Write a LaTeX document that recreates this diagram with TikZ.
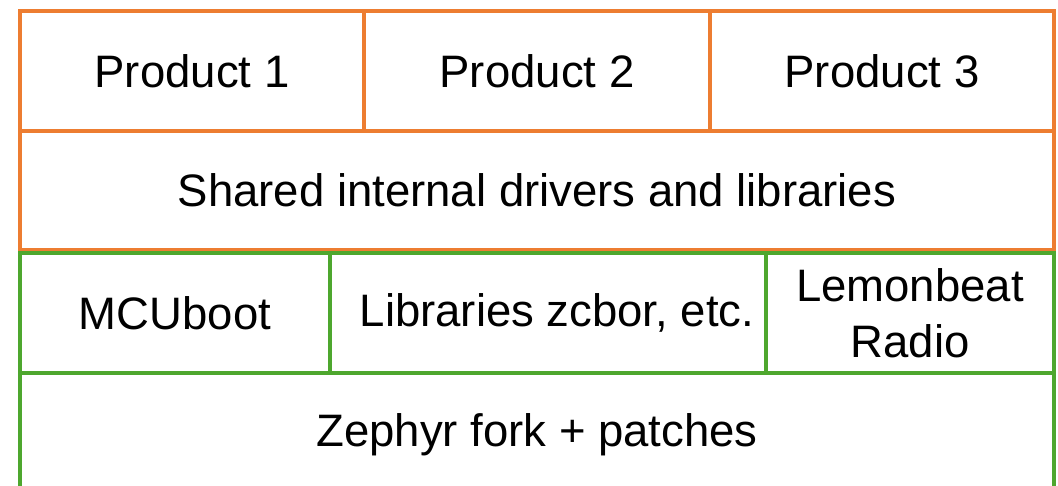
\documentclass[tikz,border=0pt]{standalone}
\usepackage{fontspec}
\setmainfont{Liberation Sans}
\definecolor{offorange}{HTML}{ED7D31}
\definecolor{offgreen}{HTML}{4EA72E}
\begin{document}
\begin{tikzpicture}[x=1pt,y=-1pt,
  cell/.style={rectangle, draw, line width=4pt, inner sep=0pt, anchor=north west,
    align=center, font=\fontsize{45.5}{56}\selectfont, text=black},
  orangecell/.style={cell, draw=offorange},
  greencell/.style={cell, draw=offgreen}]
\useasboundingbox (0,0) rectangle (1058,486);
\path[clip] (0,0) rectangle (1058,486);
\node[orangecell, minimum width=344pt, minimum height=120pt] (p1) at (18,9) {Product 1};
\node[orangecell, minimum width=346pt, minimum height=120pt] (p2) at (362,9) {Product 2};
\node[orangecell, minimum width=344pt, minimum height=120pt] (p3) at (708,9) {Product 3};
\node[orangecell, minimum width=1034pt, minimum height=119pt] (shared) at (18,129) {Shared internal drivers and libraries};
\node[greencell, minimum width=310pt, minimum height=120pt] (mcu) at (18,251) {MCUboot};
\node[greencell, minimum width=436pt, minimum height=120pt] (libs) at (328,251) {\hspace*{18pt}Libraries zcbor, etc.};
\node[greencell, minimum width=288pt, minimum height=120pt] (lemon) at (764,251) {Lemonbeat\\Radio};
\node[greencell, minimum width=1034pt, minimum height=124pt] (zephyr) at (18,371) {Zephyr fork + patches};
\end{tikzpicture}
\end{document}
